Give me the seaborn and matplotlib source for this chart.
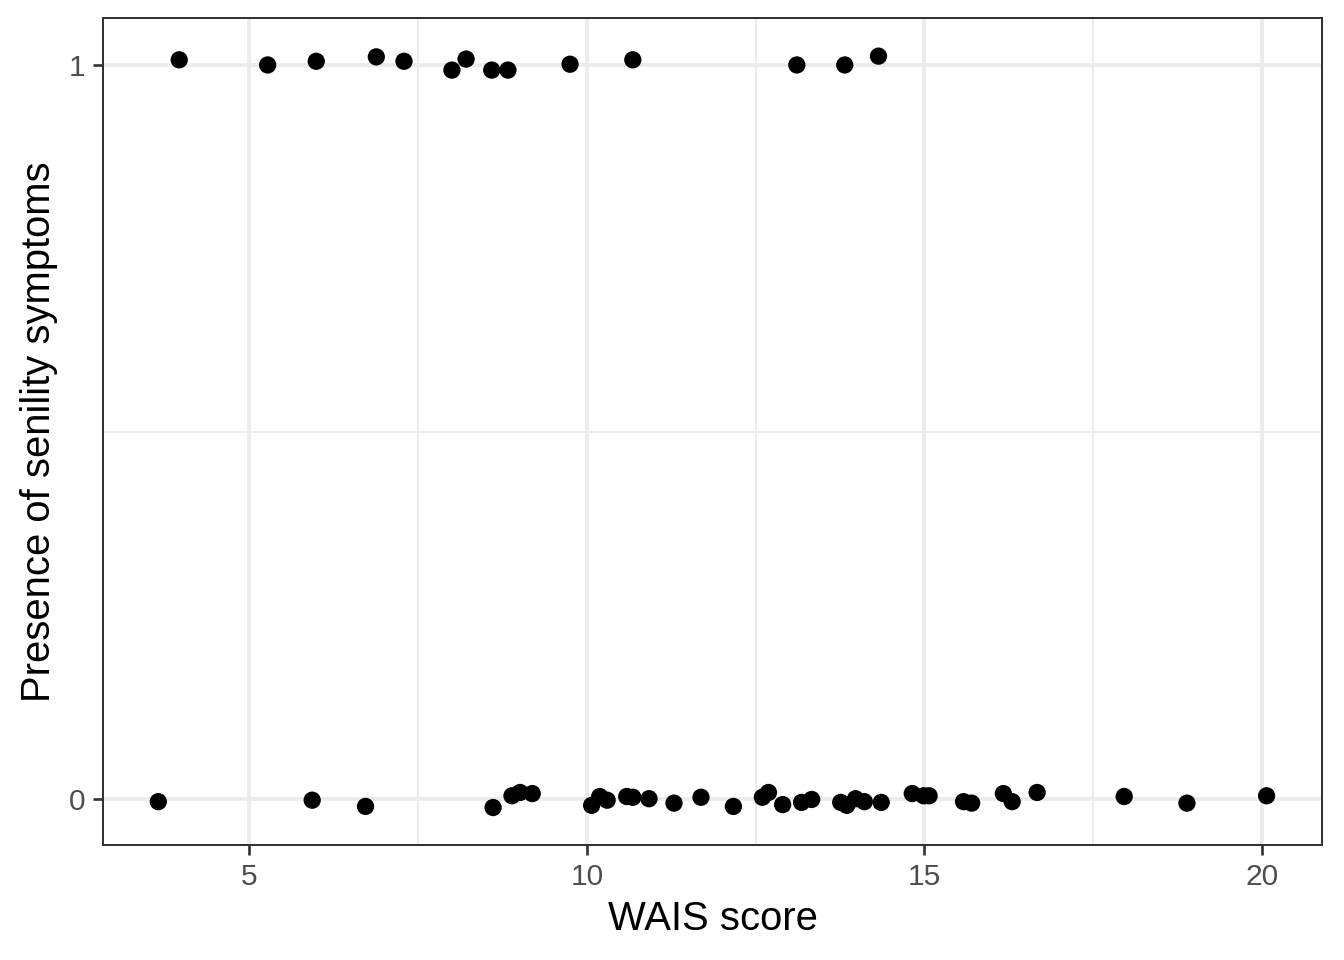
import pandas as pd
import matplotlib.pyplot as plt
import seaborn as sns
from matplotlib.ticker import MultipleLocator

# WAIS scores and (jittered) senility outcome
wais_yes = [3.96, 5.27, 5.99, 6.88, 7.29, 8.00, 8.21, 8.59, 8.83, 9.75,
            10.68, 13.11, 13.82, 14.32]
senil_yes = [1.007, 1.000, 1.005, 1.011, 1.005, 0.993, 1.008, 0.993, 0.993,
             1.001, 1.007, 1.000, 1.000, 1.012]

wais_no = [3.65, 5.93, 6.72, 8.61, 8.89, 9.01, 9.19, 10.07, 10.19, 10.30,
           10.59, 10.68, 10.92, 11.29, 11.69, 12.17, 12.60, 12.69, 12.90,
           13.18, 13.33, 13.76, 13.85, 13.98, 14.11, 14.36, 14.82, 14.99,
           15.07, 15.58, 15.70, 16.17, 16.30, 16.67, 17.96, 18.89, 20.07]
senil_no = [-0.003, -0.001, -0.0095, -0.011, 0.005, 0.0095, 0.008, -0.008,
            0.004, -0.001, 0.004, 0.003, 0.001, -0.005, 0.003, -0.0095,
            0.003, 0.0095, -0.007, -0.004, 0.000, -0.004, -0.008, 0.001,
            -0.003, -0.004, 0.008, 0.005, 0.005, -0.003, -0.005, 0.008,
            -0.003, 0.0095, 0.004, -0.005, 0.005]

df = pd.DataFrame({"wais": wais_yes + wais_no,
                   "senility": senil_yes + senil_no})

sns.set_style("white")
plt.rcParams["font.family"] = ["Liberation Sans", "DejaVu Sans"]

fig = plt.figure(figsize=(7, 5), dpi=192)
ax = fig.add_axes([0.0766, 0.1198, 0.907, 0.8615])

sns.scatterplot(data=df, x="wais", y="senility", ax=ax, color="black",
                s=42, edgecolor="none", linewidth=0, zorder=3)

ax.set_xlim(2.83, 20.89)
ax.set_ylim(-0.062, 1.064)
ax.xaxis.set_major_locator(MultipleLocator(5))
ax.xaxis.set_minor_locator(MultipleLocator(2.5))
ax.set_yticks([0, 1])
ax.set_yticks([0.5], minor=True)

ax.grid(which="major", color="#EBEBEB", linewidth=1.4, zorder=0)
ax.grid(which="minor", color="#EBEBEB", linewidth=0.7, zorder=0)
ax.set_axisbelow(True)

for sp in ax.spines.values():
    sp.set_color("#333333")
    sp.set_linewidth(0.75)

ax.tick_params(which="major", bottom=True, left=True, direction="out",
               length=3.75, width=1.0, color="#333333",
               labelsize=11.2, labelcolor="#4D4D4D", pad=3)
ax.tick_params(which="minor", bottom=False, left=False, length=0)

ax.set_xlabel("WAIS score", fontsize=15, color="black", labelpad=3.5)
ax.set_ylabel("Presence of senility symptoms", fontsize=15, color="black",
              labelpad=4)

fig.savefig("out.png", dpi=192)
